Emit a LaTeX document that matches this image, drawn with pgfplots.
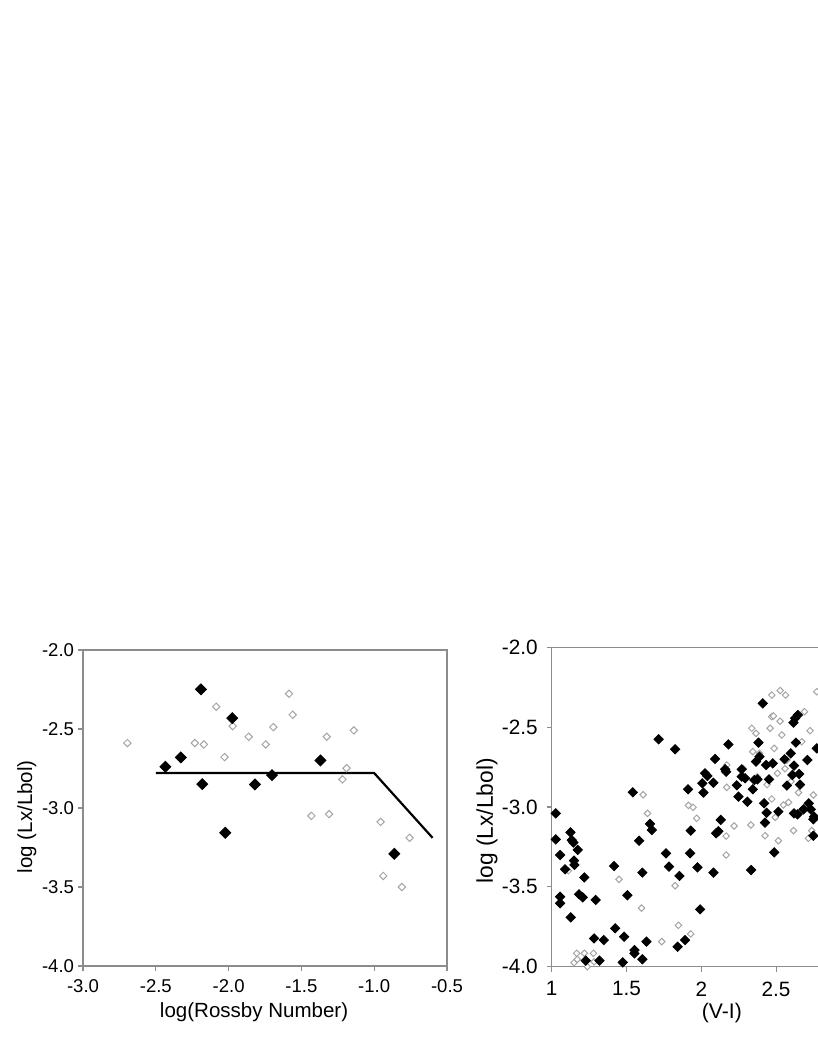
\documentclass[border=0pt]{standalone}
\usepackage{pgfplots}
\pgfplotsset{compat=1.18}
\usepackage{fontspec}
\setmainfont{Liberation Sans}

\definecolor{framegray}{RGB}{140,140,140}
\definecolor{opengray}{RGB}{165,165,165}

\pgfplotsset{
  xlplot/.style={
    scale only axis,
    axis line style={framegray, line width=0.6bp},
    tick style={framegray, line width=0.6bp},
    tick align=outside,
    xtick pos=bottom, ytick pos=left,
    major tick length=2.5bp,
    minor tick num=0,
    clip=false,
  },
}

\begin{document}
\begin{tikzpicture}[x=1bp,y=1bp]
% left panel: log(Lx/Lbol) vs log(Rossby number)
\begin{axis}[xlplot,
  at={(41.5bp,46bp)}, anchor=south west,
  width=182bp, height=158bp,
  xmin=-3, xmax=-0.5, ymin=-4, ymax=-2,
  xtick={-3,-2.5,-2,-1.5,-1,-0.5},
  xticklabels={-3.0,-2.5,-2.0,-1.5,-1.0,-0.5},
  ytick={-4,-3.5,-3,-2.5,-2},
  yticklabels={-4.0,-3.5,-3.0,-2.5,-2.0},
  ticklabel style={font=\fontsize{9.3}{11}\selectfont},
  xticklabel style={yshift=-1bp},
  yticklabel style={xshift=1.5bp},
  xlabel={log(Rossby Number)},
  ylabel={log (Lx/Lbol)},
  label style={font=\fontsize{10.3}{12}\selectfont},
  xlabel style={at={(axis description cs:0.47,-0.1456)}, anchor=center},
  ylabel style={at={(axis description cs:-0.154,0.4725)}, anchor=center},
]
\addplot[only marks, mark=square*, mark size=1.3bp,
  mark options={rotate=45, draw=opengray, fill=white, line width=0.5bp}] coordinates {
  (-2.695,-2.589) (-2.232,-2.589) (-2.170,-2.598) (-2.085,-2.359)
  (-2.028,-2.678) (-1.972,-2.482) (-1.862,-2.549) (-1.745,-2.598)
  (-1.693,-2.488) (-1.585,-2.277) (-1.560,-2.410) (-1.431,-3.050)
  (-1.310,-3.039) (-1.326,-2.549) (-1.140,-2.509) (-1.190,-2.748)
  (-1.218,-2.819) (-0.956,-3.088) (-0.938,-3.430) (-0.810,-3.500)
  (-0.757,-3.189)
};
\addplot[black, line width=1.1bp] coordinates {
  (-2.5,-2.779) (-1.0,-2.779) (-0.599,-3.189)
};
\addplot[only marks, mark=square*, mark size=1.95bp,
  mark options={rotate=45, draw=black, fill=black}] coordinates {
  (-2.434,-2.739) (-2.328,-2.680) (-2.190,-2.249) (-2.181,-2.849)
  (-2.023,-3.157) (-1.975,-2.431) (-1.819,-2.851) (-1.702,-2.792)
  (-1.369,-2.699) (-0.862,-3.290)
};
\end{axis}

% right panel: log(Lx/Lbol) vs (V-I), cut off at the page edge
\begin{axis}[xlplot,
  at={(275.85bp,45.65bp)}, anchor=south west,
  width=187bp, height=159.7bp,
  xmin=1, xmax=3.5, ymin=-4, ymax=-2,
  xtick={1,1.5,2,2.5},
  xticklabels={1,1.5,2,2.5},
  ytick={-4,-3.5,-3,-2.5,-2},
  yticklabels={-4.0,-3.5,-3.0,-2.5,-2.0},
  ticklabel style={font=\fontsize{10.4}{12}\selectfont},
  xticklabel style={yshift=-1.5bp},
  yticklabel style={xshift=-1bp},
  xlabel={(V-I)},
  ylabel={log (Lx/Lbol)},
  xlabel style={font=\fontsize{10.6}{12}\selectfont, at={(axis description cs:0.455,-0.145)}, anchor=center},
  ylabel style={font=\fontsize{11.4}{13}\selectfont, at={(axis description cs:-0.173,0.457)}, anchor=center},
]
\addplot[only marks, mark=square*, mark size=1.15bp,
  mark options={rotate=45, draw=opengray, fill=white, line width=0.5bp}] coordinates {
  (1.111,-3.399) (1.149,-3.975) (1.167,-3.916) (1.171,-3.954) (1.218,-3.916)
  (1.238,-4.000) (1.279,-3.916) (1.283,-3.969) (1.450,-3.453) (1.611,-2.923)
  (1.640,-3.040) (1.600,-3.633) (1.736,-3.843) (1.825,-3.493) (1.847,-3.741)
  (1.929,-3.795) (1.914,-2.990) (1.945,-3.002) (1.969,-3.071) (2.170,-2.877)
  (2.170,-2.737) (2.166,-3.182) (2.166,-3.301) (2.219,-3.119) (2.331,-3.113)
  (2.337,-2.507) (2.366,-2.539) (2.344,-2.653) (2.389,-2.664) (2.375,-2.810)
  (2.426,-3.180) (2.471,-2.299) (2.471,-2.434) (2.482,-2.430) (2.527,-2.271)
  (2.563,-2.299) (2.527,-2.463) (2.538,-2.549) (2.460,-2.507) (2.487,-2.633)
  (2.471,-2.950) (2.494,-3.065) (2.515,-3.211) (2.572,-2.706) (2.509,-2.789)
  (2.549,-2.987) (2.583,-2.971) (2.616,-3.148) (2.650,-2.910) (2.672,-2.591)
  (2.689,-2.403) (2.727,-2.522) (2.738,-3.148) (2.716,-3.196) (2.749,-2.925)
  (2.772,-2.278) (2.600,-2.840) (2.440,-2.860) (2.280,-2.760) (2.560,-2.760)
};
\addplot[only marks, mark=square*, mark size=1.65bp,
  mark options={rotate=45, draw=black, fill=black}] coordinates {
  (1.027,-3.040) (1.027,-3.203) (1.056,-3.301) (1.089,-3.390) (1.056,-3.562)
  (1.056,-3.603) (1.125,-3.159) (1.134,-3.207) (1.145,-3.223) (1.149,-3.336)
  (1.152,-3.363) (1.174,-3.269) (1.127,-3.691) (1.218,-3.441) (1.183,-3.547)
  (1.207,-3.566) (1.227,-3.962) (1.294,-3.582) (1.283,-3.823) (1.319,-3.962)
  (1.348,-3.833)
  (1.417,-3.370) (1.424,-3.760) (1.484,-3.812) (1.475,-3.973) (1.506,-3.553)
  (1.542,-2.908) (1.553,-3.896) (1.553,-3.917) (1.584,-3.211) (1.606,-3.411)
  (1.606,-3.954) (1.633,-3.843) (1.657,-3.106) (1.669,-3.144) (1.715,-2.576)
  (1.764,-3.290) (1.784,-3.374) (1.825,-2.639) (1.854,-3.432) (1.842,-3.875)
  (1.891,-3.833) (1.911,-2.889) (1.925,-3.290) (1.929,-3.148) (1.974,-3.378)
  (1.992,-3.641)
  (2.007,-2.852) (2.014,-2.910) (2.025,-2.789) (2.041,-2.806) (2.081,-2.848)
  (2.092,-2.699) (2.081,-3.411) (2.099,-3.165) (2.114,-3.152) (2.130,-3.081)
  (2.159,-2.764) (2.166,-2.779) (2.181,-2.608) (2.237,-2.864) (2.248,-2.935)
  (2.270,-2.764) (2.270,-2.810) (2.293,-2.820) (2.308,-2.967) (2.333,-3.395)
  (2.344,-2.889) (2.355,-2.831) (2.375,-2.827) (2.382,-2.597) (2.366,-2.716)
  (2.389,-2.685) (2.411,-2.351) (2.420,-2.977) (2.433,-2.737) (2.437,-3.036)
  (2.426,-3.098) (2.453,-2.827) (2.478,-2.727) (2.487,-3.284) (2.515,-3.029)
  (2.556,-2.701) (2.572,-2.866) (2.598,-2.664) (2.616,-2.472) (2.627,-2.445)
  (2.620,-2.741) (2.609,-2.800) (2.632,-2.597) (2.645,-2.424) (2.654,-2.793)
  (2.660,-2.860) (2.620,-3.040) (2.643,-3.046) (2.683,-3.015) (2.709,-2.706)
  (2.718,-2.977) (2.732,-3.015) (2.749,-3.077) (2.749,-3.180) (2.772,-2.633)
  (2.754,-3.061)
};
\end{axis}
\pgfresetboundingbox
\path[use as bounding box] (0,0) rectangle (408.5,529);
\end{tikzpicture}
\end{document}
